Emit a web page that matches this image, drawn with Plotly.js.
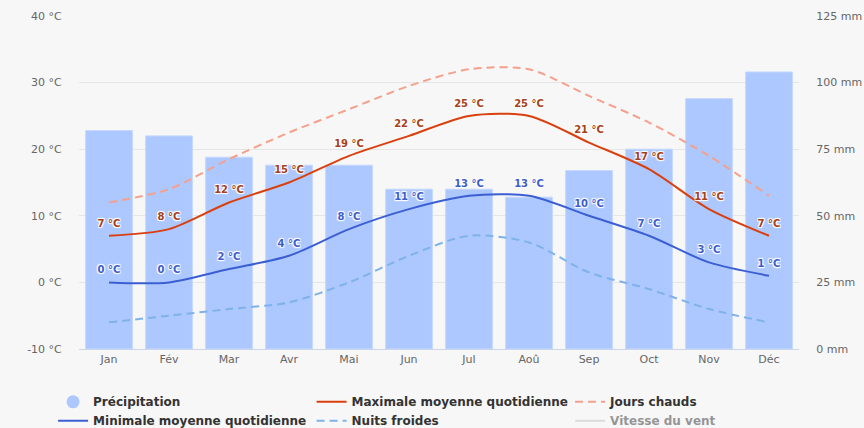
<!DOCTYPE html>
<html>
<head>
<meta charset="utf-8">
<script src="https://cdn.plot.ly/plotly-3.0.1.min.js"></script>
<style>html,body{margin:0;padding:0;background:#f7f7f7;}#chart{width:864px;height:428px;}</style>
</head>
<body>
<div id="chart"></div>
<script>
const months = ["Jan","Fév","Mar","Avr","Mai","Jun","Jul","Aoû","Sep","Oct","Nov","Déc"];
const precipitation = [82, 80, 72, 69, 69, 60, 60, 57, 67, 75, 94, 104];
const maxTemp = [7, 8, 12, 15, 19, 22, 25, 25, 21, 17, 11, 7];
const minTemp = [0, 0, 2, 4, 8, 11, 13, 13, 10, 7, 3, 1];
const hotDays = [12, 14, 18.5, 22.5, 26, 29.5, 32, 32, 28, 24, 19, 13];
const coldNights = [-6, -5, -4, -3, 0, 4, 7, 6, 1.5, -1, -4, -6];
const windSpeed = [null, null, null, null, null, null, null, null, null, null, null, null];
const leftTicks = ["-10 °C","0 °C","10 °C","20 °C","30 °C","40 °C"];
const rightTicks = ["0 mm","25 mm","50 mm","75 mm","100 mm","125 mm"];

const fmt = v => v + " °C";
const shadow = "1px 1px 1px #fff, -1px -1px 1px #fff, 1px -1px 1px #fff, -1px 1px 1px #fff";
const font = "DejaVu Sans, Verdana, sans-serif";
const clear = "rgba(0,0,0,0)";

const traces = [
  {type:"bar", x:months, y:precipitation, yaxis:"y", marker:{color:"#adc8ff", line:{color:"#c6d8ff", width:1}},
   name:"Précipitation", showlegend:false, legendgroup:"p", hoverinfo:"y"},
  {type:"scatter", mode:"markers", x:[null], y:[null], yaxis:"y", name:"Précipitation", legendgroup:"p",
   marker:{symbol:"circle", size:13, color:"#adc8ff"}, legendrank:1},
  {type:"scatter", mode:"lines", x:months, y:hotDays, yaxis:"y2", name:"Jours chauds",
   line:{color:"#f5a08c", width:2, dash:"8px,5px", shape:"spline", smoothing:0.8}, legendrank:3},
  {type:"scatter", mode:"lines", x:months, y:coldNights, yaxis:"y2", name:"Nuits froides",
   line:{color:"#7fb2ea", width:2, dash:"8px,5px", shape:"spline", smoothing:0.8}, legendrank:5},
  {type:"scatter", mode:"lines+markers+text", x:months, y:maxTemp, yaxis:"y2", name:"Maximale moyenne quotidienne",
   text:maxTemp.map(fmt), textposition:"top center", marker:{size:9, color:clear, line:{width:0, color:clear}},
   textfont:{family:font, size:10, color:"#a5421a", weight:"bold", shadow:shadow},
   line:{color:"#d9400e", width:2, shape:"spline", smoothing:0.8}, legendrank:2},
  {type:"scatter", mode:"lines+markers+text", x:months, y:minTemp, yaxis:"y2", name:"Minimale moyenne quotidienne",
   text:minTemp.map(fmt), textposition:"top center", marker:{size:9, color:clear, line:{width:0, color:clear}},
   textfont:{family:font, size:10, color:"#3e5ec9", weight:"bold", shadow:shadow},
   line:{color:"#3b5fd3", width:2, shape:"spline", smoothing:0.8}, legendrank:4},
  {type:"scatter", mode:"lines", x:months, y:windSpeed, yaxis:"y2", name:"Vitesse du vent",
   visible:"legendonly", line:{color:"#bdbdbd", width:2}, legendrank:6}
];

const layout = {
  width:864, height:428,
  paper_bgcolor:"#f7f7f7", plot_bgcolor:"#f7f7f7",
  margin:{l:78.5, r:64.5, t:15.5, b:78.5, autoexpand:false},
  font:{family:font, color:"#666"},
  bargap:0.22,
  showlegend:true,
  xaxis:{type:"category", categoryorder:"array", categoryarray:months, range:[-0.5, 11.5], autorange:false,
    showgrid:false, showline:true, linecolor:"#ccd6eb", linewidth:1, ticks:"", tickfont:{size:11, color:"#666"},
    fixedrange:true},
  yaxis:{side:"right", range:[0,125], tickvals:[0,25,50,75,100,125], ticktext:rightTicks,
    showgrid:true, gridcolor:"#e6e6e6", gridwidth:1, zeroline:false, showline:false,
    ticks:"outside", ticklen:14, tickcolor:"rgba(0,0,0,0)", tickfont:{size:11, color:"#666"}},
  yaxis2:{side:"left", overlaying:"y", range:[-10,40], tickvals:[-10,0,10,20,30,40], ticktext:leftTicks,
    showgrid:false, zeroline:false, showline:false,
    ticks:"outside", ticklen:14, tickcolor:"rgba(0,0,0,0)", tickfont:{size:11, color:"#666"}},
  legend:{orientation:"h", x:-0.036, xanchor:"left", y:-0.115, yanchor:"top",
    entrywidth:213.5, entrywidthmode:"pixels", traceorder:"normal", tracegroupgap:0,
    font:{family:font, size:12, color:"#333", weight:"bold"}, bgcolor:"rgba(0,0,0,0)",
    itemclick:false, itemdoubleclick:false}
};

Plotly.newPlot("chart", traces, layout, {displayModeBar:false});
</script>
</body>
</html>
